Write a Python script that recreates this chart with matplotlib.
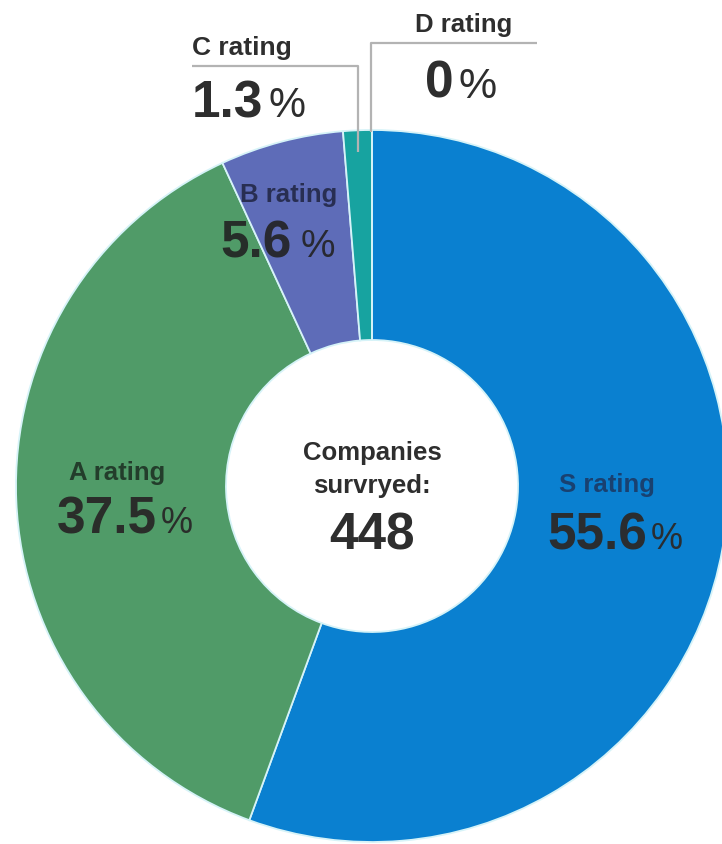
import matplotlib
matplotlib.use("Agg")
import matplotlib.pyplot as plt

# ---- data ----
categories = ["S rating", "A rating", "B rating", "C rating", "D rating"]
shares = [55.6, 37.5, 5.6, 1.3, 0.0]
share_labels = ["55.6", "37.5", "5.6", "1.3", "0"]
colors = ["#0a80d0", "#509b68", "#5e6cb8", "#17a3a0", "#17a3a0"]
center_lines = ["Companies", "survryed:"]
center_total = "448"

W, H = 722, 845
plt.rcParams['font.family'] = ['Liberation Sans', 'DejaVu Sans']
fig = plt.figure(figsize=(W / 100, H / 100), dpi=100)
ax = fig.add_axes([0, 0, 1, 1])

def Y(y):
    return H - y

cx, cy, R, r_in = 372, Y(487), 356, 146
wedges, _ = ax.pie(shares, colors=colors, startangle=90, counterclock=False,
                   center=(cx, cy), radius=R,
                   wedgeprops=dict(width=R - r_in, edgecolor="#d6f3f8", linewidth=1.3))
ax.set_xlim(0, W)
ax.set_ylim(0, H)
ax.set_aspect('auto')
ax.axis('off')

lead = "#b3b3b3"
# C rating leader
ax.plot([192, 358, 358], [Y(67), Y(67), Y(153)], color=lead, lw=1.6,
        solid_capstyle='butt', zorder=5)
# D rating leader
ax.plot([537, 371, 371], [Y(44), Y(44), Y(133)], color=lead, lw=1.6,
        solid_capstyle='butt', zorder=5)

txt = "#2e2e2e"
lab_fs = 18.5
num_fs = 37

def number(xr, yb, s, color=txt, alpha=1.0, gap=4, pct_fs=26):
    ax.text(xr, Y(yb), s, ha='right', va='baseline', fontsize=num_fs,
            fontweight='bold', color=color, alpha=alpha, zorder=6)
    ax.text(xr + gap, Y(yb), "%", ha='left', va='baseline', fontsize=pct_fs,
            color=color, alpha=alpha, zorder=6)

# C
ax.text(192, Y(55), categories[3], ha='left', va='baseline', fontsize=lab_fs + 0.5,
        fontweight='bold', color=txt)
number(263, 117, share_labels[3], pct_fs=30, gap=5)
# D
ax.text(464, Y(32), categories[4], ha='center', va='baseline', fontsize=lab_fs,
        fontweight='bold', color=txt)
number(454, 98, share_labels[4], pct_fs=31, gap=5)
# B
ax.text(289, Y(202), categories[2], ha='center', va='baseline', fontsize=lab_fs,
        fontweight='bold', color="#1f2440", alpha=0.85)
number(292, 257, share_labels[2], color="#222222", alpha=0.9, gap=9, pct_fs=28)
# A
ax.text(117, Y(480), categories[1], ha='center', va='baseline', fontsize=lab_fs,
        fontweight='bold', color="#1e3325", alpha=0.9)
number(157, 533, share_labels[1], color="#2a2d2a")
# S
ax.text(607, Y(492), categories[0], ha='center', va='baseline', fontsize=lab_fs,
        fontweight='bold', color="#1b3a66", alpha=0.9)
number(647, 549, share_labels[0], color="#2a2d30")

# center
ax.text(372, Y(460), center_lines[0], ha='center', va='baseline', fontsize=lab_fs,
        fontweight='bold', color=txt)
ax.text(372, Y(493), center_lines[1], ha='center', va='baseline', fontsize=lab_fs,
        fontweight='bold', color=txt)
ax.text(372, Y(550), center_total, ha='center', va='baseline', fontsize=num_fs,
        fontweight='bold', color=txt)

fig.savefig("out.png", dpi=100)
